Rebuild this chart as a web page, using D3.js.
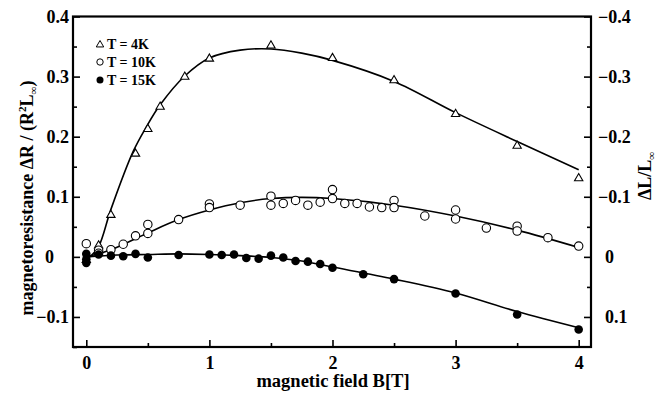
<!DOCTYPE html>
<html>
<head>
<meta charset="utf-8">
<script src="https://cdn.jsdelivr.net/npm/d3@7"></script>
<style>
body { margin:0; background:#fff; }
text { font-family: "Liberation Serif", "Times New Roman", serif; font-weight: bold; fill:#000; }
</style>
</head>
<body>
<div class="chart"></div>
<script>
// measured points [B, value]
let t4Points = [[0,-0.004],[0.1,0.02],[0.2,0.071],[0.4,0.173],[0.5,0.214],[0.6,0.251],[0.8,0.301],[1.0,0.331],[1.5,0.353],[2.0,0.332],[2.5,0.295],[3.0,0.239],[3.5,0.186],[4.0,0.132]];
let t10Points = [[0,0.022],[0.1,0.011],[0.1,0.006],[0.2,0.012],[0.3,0.021],[0.4,0.035],[0.5,0.054],[0.5,0.039],[0.75,0.062],[1.0,0.088],[1.0,0.082],[1.25,0.086],[1.5,0.101],[1.5,0.086],[1.6,0.089],[1.7,0.094],[1.8,0.086],[1.9,0.091],[2.0,0.097],[2.0,0.112],[2.1,0.089],[2.2,0.089],[2.3,0.083],[2.4,0.082],[2.5,0.094],[2.5,0.082],[2.75,0.068],[3.0,0.078],[3.0,0.063],[3.25,0.048],[3.5,0.051],[3.5,0.043],[3.75,0.032],[4.0,0.018]];
let t15Points = [[0,0.005],[0,-0.004],[0,-0.01],[0.1,0.004],[0.2,0.002],[0.3,0.001],[0.4,0.005],[0.5,-0.001],[0.75,0.003],[1.0,0.004],[1.1,0.003],[1.2,0.004],[1.3,-0.002],[1.4,-0.003],[1.5,0.002],[1.6,-0.001],[1.7,-0.007],[1.8,-0.008],[1.9,-0.012],[2.0,-0.018],[2.25,-0.029],[2.5,-0.037],[3.0,-0.061],[3.5,-0.096],[4.0,-0.121]];

// fitted curves
let t4Fit = [[0.03,0],[0.1,0.017],[0.2,0.079],[0.38,0.175],[0.49,0.217],[0.6,0.253],[0.8,0.301],[1.0,0.331],[1.25,0.344],[1.5,0.346],[1.75,0.339],[2.0,0.327],[2.5,0.292],[3.0,0.24],[3.5,0.192],[4.0,0.145]];
let t10Fit = [[0,0],[0.19,0.011],[0.49,0.039],[0.75,0.062],[1.0,0.078],[1.25,0.09],[1.5,0.097],[1.75,0.099],[2.0,0.097],[2.5,0.086],[3.0,0.068],[3.5,0.0445],[4.0,0.0156]];
let t15Fit = [[0,0],[0.25,0.003],[0.5,0.004],[0.75,0.005],[1.0,0.004],[1.25,0.002],[1.5,-0.001],[1.75,-0.007],[2.0,-0.017],[2.5,-0.037],[3.0,-0.06],[3.5,-0.091],[4.0,-0.118]];

let legendLabels = ["T = 4K","T = 10K","T = 15K"];
let xTicks = [0,1,2,3,4];
let yTicks = [-0.1,0,0.1,0.2,0.3,0.4];
let yRightTicks = [0.1,0,-0.1,-0.2,-0.3,-0.4];

let outWidth = 670, outHeight = 393;
let pLeft = 73, pRight = 591, pTop = 16.5, pBottom = 347;

const svg = d3.select('.chart').append('svg')
	.attr("width", outWidth)
	.attr("height", outHeight);

let xScale = d3.scaleLinear().domain([-0.108,4.1]).range([pLeft,pRight]);
let yScale = d3.scaleLinear().domain([-0.15,0.4]).range([pBottom,pTop]);
let yRight = d3.scaleLinear().domain([0.15,-0.4]).range([pBottom,pTop]);

const line = d3.line()
	.x(d=>xScale(d[0]))
	.y(d=>yScale(d[1]))
	.curve(d3.curveCatmullRom.alpha(0.5));

// fit lines
[t4Fit,t10Fit,t15Fit].forEach(f=>{
	svg.append("path")
		.datum(f)
		.attr("d",line)
		.attr("fill","none")
		.attr("stroke","#000")
		.attr("stroke-width",1.6);
});

// markers
const tri = d3.symbol().type(d3.symbolTriangle).size(30);
svg.selectAll(".t4").data(t4Points).enter()
	.append("path")
	.attr("class","t4")
	.attr("d",tri)
	.attr("transform",d=>`translate(${xScale(d[0])},${yScale(d[1])+0.8})`)
	.attr("fill","#fff").attr("stroke","#000").attr("stroke-width",1.1);

svg.selectAll(".t10").data(t10Points).enter()
	.append("circle")
	.attr("class","t10")
	.attr("cx",d=>xScale(d[0]))
	.attr("cy",d=>yScale(d[1]))
	.attr("r",4.2)
	.attr("fill","#fff").attr("stroke","#000").attr("stroke-width",1.1);

svg.selectAll(".t15").data(t15Points).enter()
	.append("circle")
	.attr("class","t15")
	.attr("cx",d=>xScale(d[0]))
	.attr("cy",d=>yScale(d[1]))
	.attr("r",4.3)
	.attr("fill","#000");

// axes, ticks point inward
const xMajor = d3.axisBottom(xScale).tickValues(xTicks).tickSize(-7).tickPadding(9).tickFormat(d3.format("d"));
const xMinor = d3.axisBottom(xScale).tickValues([0.5,1.5,2.5,3.5]).tickSize(-4).tickFormat("");
const yMajor = d3.axisLeft(yScale).tickValues(yTicks).tickSize(-7).tickPadding(5).tickFormat(d=>d==0?"0":d3.format(".1f")(d));
const yMinor = d3.axisLeft(yScale).tickValues([-0.15,-0.05,0.05,0.15,0.25,0.35]).tickSize(-4).tickFormat("");
const rMajor = d3.axisRight(yRight).tickValues(yRightTicks).tickSize(-7).tickPadding(7).tickFormat(d=>d==0?"0":d3.format(".1f")(d));
const rMinor = d3.axisRight(yRight).tickValues([0.05,-0.05,-0.15,-0.25,-0.35]).tickSize(-4).tickFormat("");

function styleAxis(g){
	g.select(".domain").remove();
	g.selectAll(".tick line").attr("stroke","#000").attr("stroke-width",1.6);
	g.selectAll(".tick text").attr("font-size",18).attr("font-family","Liberation Serif").attr("font-weight","bold").attr("fill","#000");
}

svg.append("g").attr("transform",`translate(0,${pBottom})`).call(xMajor).call(styleAxis);
svg.append("g").attr("transform",`translate(0,${pBottom})`).call(xMinor).call(styleAxis);
let gl = svg.append("g").attr("transform",`translate(${pLeft},0)`).call(yMajor).call(styleAxis);
svg.append("g").attr("transform",`translate(${pLeft},0)`).call(yMinor).call(styleAxis);
let gr = svg.append("g").attr("transform",`translate(${pRight},0)`).call(rMajor).call(styleAxis);
svg.append("g").attr("transform",`translate(${pRight},0)`).call(rMinor).call(styleAxis);

// zero label sits a bit left of the decimals on the left side, minus hangs out on the right
gl.selectAll(".tick text").attr("x",d=>d==0?-19:-4);
gr.selectAll(".tick text").attr("x",d=>d<0?7:14);

// frame
svg.append("rect")
	.attr("x",pLeft).attr("y",pTop)
	.attr("width",pRight-pLeft).attr("height",pBottom-pTop)
	.attr("fill","none").attr("stroke","#000").attr("stroke-width",2.2);

// legend
let lg = svg.append("g");
legendLabels.forEach((lab,i)=>{
	let y = 44 + i*18;
	if(i==0) lg.append("path").attr("d",d3.symbol().type(d3.symbolTriangle).size(24)).attr("transform",`translate(100,${y+0.8})`).attr("fill","#fff").attr("stroke","#000").attr("stroke-width",1);
	if(i==1) lg.append("circle").attr("cx",100).attr("cy",y).attr("r",3.2).attr("fill","#fff").attr("stroke","#000").attr("stroke-width",1);
	if(i==2) lg.append("circle").attr("cx",100).attr("cy",y).attr("r",3.5).attr("fill","#000");
	lg.append("text").attr("x",107).attr("y",y+5).attr("font-size",14).text(lab);
});

// axis titles
svg.append("text")
	.attr("x",333).attr("y",387)
	.attr("text-anchor","middle")
	.attr("font-size",18.5)
	.text("magnetic field B[T]");

let yt = svg.append("text")
	.attr("transform","translate(33,198) rotate(-90)")
	.attr("text-anchor","middle")
	.attr("font-size",18);
yt.append("tspan").text("magnetoresistance ΔR / (R");
yt.append("tspan").attr("font-size",11).attr("dy",-7).text("2");
yt.append("tspan").attr("dy",7).text("L");
yt.append("tspan").attr("font-size",11).attr("dy",4).text("∞");
yt.append("tspan").attr("dy",-4).text(")");

let rt = svg.append("text")
	.attr("transform","translate(651,176) rotate(-90)")
	.attr("text-anchor","middle")
	.attr("font-size",18);
rt.append("tspan").text("ΔL/L");
rt.append("tspan").attr("font-size",11).attr("dy",4).text("∞");
</script>
</body>
</html>
